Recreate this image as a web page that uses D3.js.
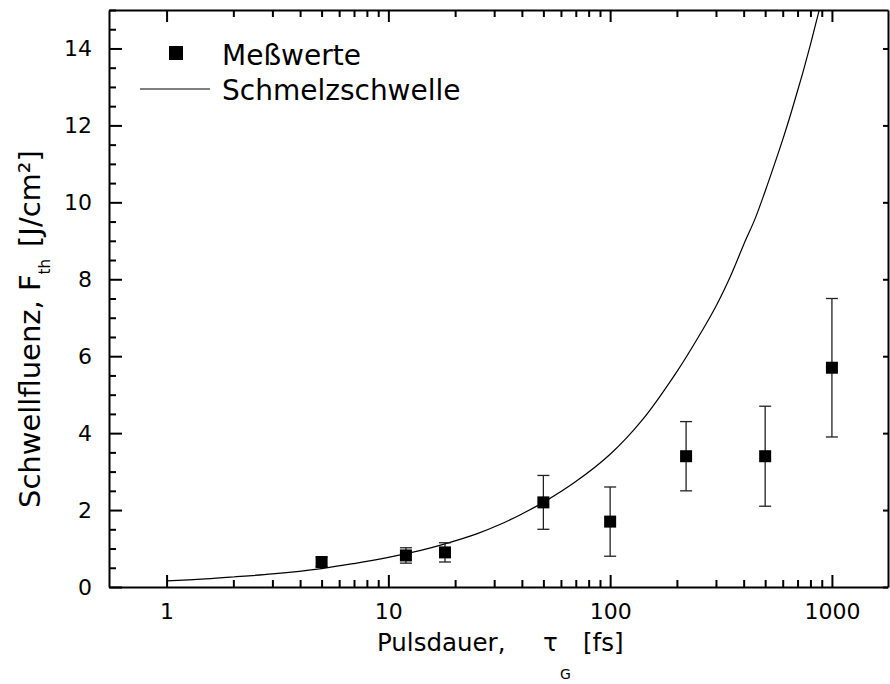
<!DOCTYPE html>
<html>
<head>
<meta charset="utf-8">
<script src="https://cdn.jsdelivr.net/npm/d3@7"></script>
<style>
  body { margin: 0; background: #fff; }
  svg { display: block; }
  text { font-family: "DejaVu Sans", Verdana, sans-serif; fill: #000; }
</style>
</head>
<body>
<svg id="chart"></svg>
<script>
// measured threshold fluence vs pulse duration
const pulseDur = [5, 12, 18, 50, 100, 220, 500, 1000];
const fluence = [0.65, 0.82, 0.9, 2.2, 1.7, 3.4, 3.4, 5.7];
const fluenceErr = [0.12, 0.2, 0.25, 0.7, 0.9, 0.9, 1.3, 1.8];

// melting threshold curve
const meltTau = [1, 1.5, 2, 3, 5, 7, 10, 14, 18, 25, 32, 40, 50, 70, 100, 140, 200, 250, 300,
                 350, 400, 450, 500, 550, 600, 650, 700, 750, 800, 850, 900];
const meltF = [0.16, 0.21, 0.26, 0.34, 0.48, 0.61, 0.77, 0.95, 1.12, 1.38, 1.63, 1.9, 2.2, 2.74, 3.45, 4.35, 5.6, 6.5, 7.3,
               8.1, 8.9, 9.57, 10.29, 10.98, 11.63, 12.27, 12.9, 13.5, 14.1, 14.7, 15.25];

const xMajor = [1, 10, 100, 1000];
const xMinor = [2, 3, 4, 5, 6, 7, 8, 9, 20, 30, 40, 50, 60, 70, 80, 90, 200, 300, 400, 500, 600, 700, 800, 900];
const yMajor = [0, 2, 4, 6, 8, 10, 12, 14];
const yMinor = d3.range(0, 15.01, 0.5).filter(v => v % 2 !== 0);

const legendLabels = ["Meßwerte", "Schmelzschwelle"];

const W = 890, H = 684;
const pLeft = 109, pRight = 888, pTop = 10, pBottom = 587;

const svg = d3.select("#chart").attr("width", W).attr("height", H);

const x = d3.scaleLog().domain([0.55, 1790]).range([pLeft, pRight]);
const y = d3.scaleLinear().domain([0, 15]).range([pBottom, pTop]);

function styleAxis(g) {
  g.selectAll("path, line").attr("stroke", "#000").attr("stroke-width", 2);
}

// bottom axis
svg.append("g").attr("transform", `translate(0,${pBottom})`)
  .call(d3.axisBottom(x).tickValues(xMajor).tickFormat(d3.format("d")).tickSizeInner(-12).tickSizeOuter(0))
  .call(styleAxis)
  .call(g => g.selectAll("text").attr("y", 32).attr("dy", 0).style("font-size", "22px"));
svg.append("g").attr("transform", `translate(0,${pBottom})`)
  .call(d3.axisBottom(x).tickValues(xMinor).tickFormat("").tickSizeInner(-7).tickSizeOuter(0))
  .call(styleAxis)
  .call(g => g.select(".domain").remove());

// top axis
svg.append("g").attr("transform", `translate(0,${pTop})`)
  .call(d3.axisTop(x).tickValues(xMajor).tickFormat("").tickSizeInner(-12).tickSizeOuter(0))
  .call(styleAxis);
svg.append("g").attr("transform", `translate(0,${pTop})`)
  .call(d3.axisTop(x).tickValues(xMinor).tickFormat("").tickSizeInner(-7).tickSizeOuter(0))
  .call(styleAxis)
  .call(g => g.select(".domain").remove());

// left axis
svg.append("g").attr("transform", `translate(${pLeft},0)`)
  .call(d3.axisLeft(y).tickValues(yMajor).tickFormat(d3.format("d")).tickSizeInner(-13).tickSizeOuter(0).tickPadding(17))
  .call(styleAxis)
  .call(g => g.selectAll("text").style("font-size", "22px"));
svg.append("g").attr("transform", `translate(${pLeft},0)`)
  .call(d3.axisLeft(y).tickValues(yMinor).tickFormat("").tickSizeInner(-7).tickSizeOuter(0))
  .call(styleAxis)
  .call(g => g.select(".domain").remove());

// right axis
svg.append("g").attr("transform", `translate(${pRight},0)`)
  .call(d3.axisRight(y).tickValues(yMajor).tickFormat("").tickSizeInner(-5).tickSizeOuter(0))
  .call(styleAxis);

// clip for curve
svg.append("clipPath").attr("id", "plotClip")
  .append("rect").attr("x", pLeft).attr("y", pTop).attr("width", pRight - pLeft).attr("height", pBottom - pTop);

const meltData = meltTau.map((t, i) => [t, meltF[i]]);
const line = d3.line().x(d => x(d[0])).y(d => y(d[1])).curve(d3.curveCatmullRom.alpha(0.5));
svg.append("path")
  .datum(meltData)
  .attr("clip-path", "url(#plotClip)")
  .attr("fill", "none")
  .attr("stroke", "#000")
  .attr("stroke-width", 1.2)
  .attr("d", line);

// error bars
const pts = pulseDur.map((t, i) => ({t: t, f: fluence[i], e: fluenceErr[i]}));
const eb = svg.append("g").attr("stroke", "#222").attr("stroke-width", 1.3);
eb.selectAll("line.v").data(pts).enter().append("line")
  .attr("x1", d => x(d.t)).attr("x2", d => x(d.t))
  .attr("y1", d => y(d.f - d.e)).attr("y2", d => y(d.f + d.e));
eb.selectAll("line.top").data(pts).enter().append("line")
  .attr("x1", d => x(d.t) - 6).attr("x2", d => x(d.t) + 6)
  .attr("y1", d => y(d.f + d.e)).attr("y2", d => y(d.f + d.e));
eb.selectAll("line.bot").data(pts).enter().append("line")
  .attr("x1", d => x(d.t) - 6).attr("x2", d => x(d.t) + 6)
  .attr("y1", d => y(d.f - d.e)).attr("y2", d => y(d.f - d.e));

// markers
const ms = 12;
svg.append("g").selectAll("rect").data(pts).enter().append("rect")
  .attr("x", d => x(d.t) - ms / 2).attr("y", d => y(d.f) - ms / 2)
  .attr("width", ms).attr("height", ms).attr("fill", "#000");

// legend
const lg = svg.append("g");
lg.append("rect").attr("x", 176 - 7).attr("y", 53 - 7).attr("width", 14).attr("height", 14).attr("fill", "#000");
lg.append("text").attr("x", 222).attr("y", 65).style("font-size", "28px").text(legendLabels[0]);
lg.append("line").attr("x1", 140).attr("x2", 210).attr("y1", 89).attr("y2", 89).attr("stroke", "#000").attr("stroke-width", 1.2);
lg.append("text").attr("x", 222).attr("y", 100).style("font-size", "28px").text(legendLabels[1]);

// x axis title
const xt = svg.append("text").attr("y", 651).style("font-size", "24.5px");
xt.append("tspan").attr("x", 377).text("Pulsdauer,");
xt.append("tspan").attr("x", 543).text("τ");
xt.append("tspan").attr("x", 560).attr("dy", 28).style("font-size", "14px").text("G");
xt.append("tspan").attr("x", 583).attr("dy", -28).text("[fs]");

// y axis title
const yt = svg.append("text")
  .attr("transform", "translate(40,508) rotate(-90)")
  .style("font-size", "29px");
yt.append("tspan").text("Schwellfluenz, F");
yt.append("tspan").attr("dy", 10).style("font-size", "15px").text("th");
yt.append("tspan").attr("dy", -10).attr("dx", 12).text("[J/cm²]");
</script>
</body>
</html>
